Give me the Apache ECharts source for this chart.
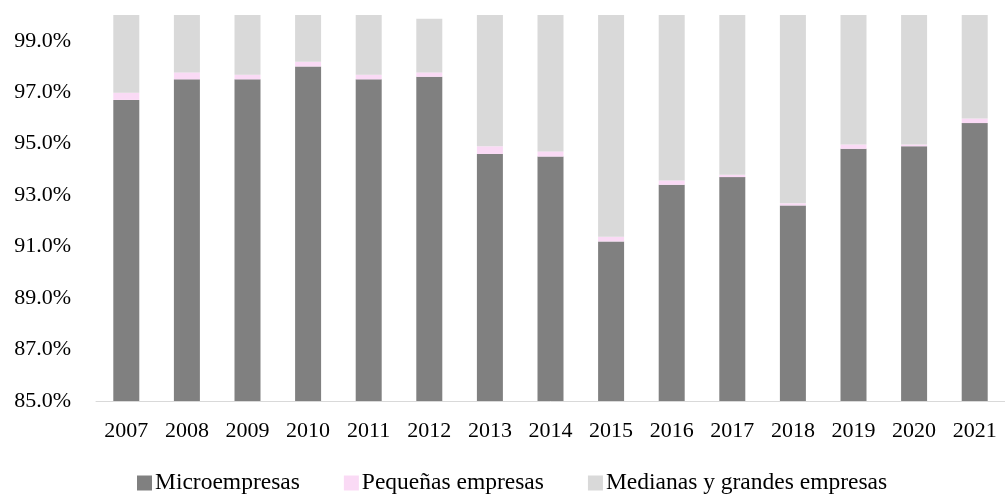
<!DOCTYPE html>
<html>
<head>
<meta charset="utf-8">
<script src="https://cdn.jsdelivr.net/npm/echarts@6/dist/echarts.min.js"></script>
<style>
html,body{margin:0;padding:0;background:#fff;}
#chart{width:1005px;height:494px;}
</style>
</head>
<body>
<div id="chart"></div>
<script>
var categories = ['2007','2008','2009','2010','2011','2012','2013','2014','2015','2016','2017','2018','2019','2020','2021'];
var microempresas = [96.7, 97.5, 97.5, 98.0, 97.5, 97.6, 94.6, 94.5, 91.2, 93.4, 93.7, 92.6, 94.8, 94.9, 95.8];
var pequenas = [0.28, 0.27, 0.18, 0.18, 0.18, 0.17, 0.30, 0.20, 0.18, 0.17, 0.09, 0.08, 0.17, 0.07, 0.18];
var medianasGrandes = [3.02, 2.23, 2.32, 1.82, 2.32, 2.08, 5.10, 5.30, 8.62, 6.43, 6.21, 7.32, 5.03, 5.03, 4.02];
var seriesNames = ['Microempresas', 'Pequeñas empresas', 'Medianas y grandes empresas'];

var font = '"Liberation Serif", "Times New Roman", serif';
var chart = echarts.init(document.getElementById('chart'));
chart.setOption({
  animation: false,
  color: ['#808080', '#fadaf5', '#d9d9d9'],
  grid: { left: 96, top: 15, bottom: 93, width: 913 },
  legend: {
    data: seriesNames,
    left: 137,
    top: 471,
    padding: 0,
    itemWidth: 15,
    itemHeight: 15,
    itemGap: 44,
    icon: 'rect',
    textStyle: { fontFamily: font, fontSize: 23.5, color: '#000', padding: [0,0,0,-2] }
  },
  xAxis: {
    type: 'category',
    data: categories,
    axisLine: { lineStyle: { color: '#d9d9d9', width: 1 } },
    axisTick: { show: false },
    axisLabel: { fontFamily: font, fontSize: 22, color: '#000', margin: 19 }
  },
  yAxis: {
    type: 'value',
    min: 85,
    max: 100,
    interval: 2,
    axisLine: { show: false },
    axisTick: { show: false },
    splitLine: { show: false },
    axisLabel: {
      fontFamily: font, fontSize: 22, color: '#000', margin: 25,
      showMaxLabel: false,
      formatter: function (v) { return v.toFixed(1) + '%'; }
    }
  },
  series: [
    { name: seriesNames[0], type: 'bar', stack: 'total', barWidth: 26, data: microempresas },
    { name: seriesNames[1], type: 'bar', stack: 'total', barWidth: 26, data: pequenas },
    { name: seriesNames[2], type: 'bar', stack: 'total', barWidth: 26, data: medianasGrandes }
  ]
});
</script>
</body>
</html>
